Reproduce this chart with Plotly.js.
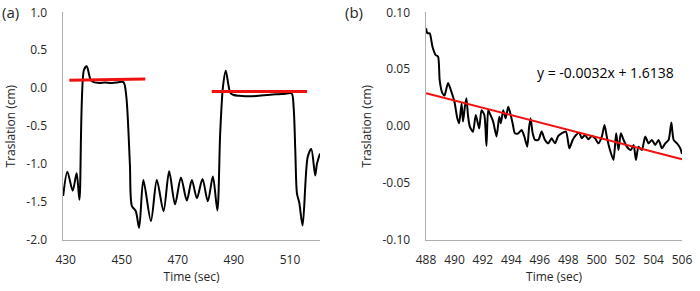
<!DOCTYPE html>
<html>
<head>
<meta charset="utf-8">
<script src="https://cdn.plot.ly/plotly-3.0.1.min.js"></script>
<style>html,body{margin:0;padding:0;background:#fff;}#chart{width:700px;height:291px;}</style>
</head>
<body>
<div id="chart"></div>
<script>
// Panel (a): translation vs time
const timeA = [429.1, 430.6, 432.5, 433.9, 434.9, 436.5, 437.5, 438.9, 440.0, 442.0, 444.0, 446.0, 448.0, 450.6,
  451.6, 452.9, 453.6, 455.0, 456.2, 457.7, 460.4, 462.5, 464.9, 466.9, 469.0, 471.1, 473.2, 475.0, 476.8,
  478.8, 480.7, 482.5, 484.1, 485.1, 486.1, 487.1, 488.7, 489.9, 492.0, 495.8, 499.0, 501.8, 505.0, 508.0,
  510.6, 511.3, 511.9, 512.5, 513.3, 514.5, 516.3, 517.6, 519.0, 519.6, 520.7];
const transA = [-1.42, -1.10, -1.35, -1.12, -1.47, 0.24, 0.29, 0.11, 0.08, 0.07, 0.075, 0.07, 0.075, 0.08,
  -0.10, -1.00, -1.55, -1.62, -1.84, -1.21, -1.75, -1.21, -1.62, -1.095, -1.53, -1.175, -1.48, -1.21, -1.45,
  -1.196, -1.49, -1.165, -1.61, -0.60, 0.02, 0.23, -0.06, -0.09, -0.10, -0.107, -0.10, -0.09, -0.08, -0.075,
  -0.07, -0.25, -0.82, -1.39, -1.505, -1.81, -0.91, -0.80, -1.15, -1.00, -0.86];
// Panel (a) red reference levels
const levelA1X = [431.3, 458.4];
const levelA1Y = [0.105, 0.12];
const levelA2X = [482.1, 516.1];
const levelA2Y = [-0.045, -0.045];
const ticksA_x = [430, 450, 470, 490, 510];
const ticksA_y = [-2.0, -1.5, -1.0, -0.5, 0.0, 0.5, 1.0];

// Panel (b): zoomed plateau
const timeB = [488.0, 488.1, 488.26, 488.45, 488.68, 488.85, 488.96, 489.15, 489.3, 489.55, 489.79, 490.0, 490.2,
  490.33, 490.5, 490.6, 490.73, 490.84, 490.96, 491.08, 491.3, 491.5, 491.74, 491.9, 492.1, 492.25, 492.37,
  492.49, 492.72, 492.96, 493.15, 493.26, 493.43, 493.6, 493.78, 493.9, 494.09, 494.25, 494.49, 494.72, 494.9,
  495.12, 495.24, 495.35, 495.5, 495.66, 495.9, 496.13, 496.36, 496.6, 496.83, 497.07, 497.3, 497.54, 497.84,
  498.08, 498.31, 498.55, 498.78, 498.95, 499.18, 499.42, 499.65, 499.89, 500.12, 500.36, 500.55, 500.71,
  500.9, 501.18, 501.37, 501.53, 501.7, 501.89, 502.12, 502.4, 502.6, 502.76, 502.94, 503.18, 503.41, 503.65,
  503.88, 504.12, 504.35, 504.59, 504.82, 505.06, 505.25, 505.41, 505.65, 505.88, 506.0];
const transB = [0.086, 0.0816, 0.0816, 0.070, 0.0625, 0.061, 0.0405, 0.029, 0.027, 0.038, 0.030, 0.0215, 0.0069,
  0.0025, 0.020, 0.004, 0.017, 0.0245, 0.0083, -0.0004, -0.005, 0.0098, -0.002, 0.014, 0.0098, -0.0174, 0.014,
  0.011, 0.004, -0.009, 0.0083, 0.0025, 0.014, 0.0069, 0.017, 0.0127, 0.0025, -0.0063, -0.0063, -0.0034, -0.0086,
  -0.018, -0.0019, 0.0069, -0.0063, -0.0121, -0.0121, -0.0048, -0.0121, -0.0151, -0.0107, -0.0151, -0.0086,
  -0.0063, -0.0048, -0.0195, -0.0121, -0.0078, -0.0057, -0.0107, -0.0078, -0.0116, -0.0086, -0.0107, -0.0151,
  -0.0092, 0.001, -0.0092, -0.0195, -0.0297, -0.0063, -0.021, -0.0063, -0.0121, -0.018, -0.021, -0.0165,
  -0.0297, -0.018, -0.021, -0.0092, -0.0151, -0.0121, -0.0165, -0.0121, -0.0195, -0.0151, -0.0121, 0.0031,
  -0.0121, -0.0151, -0.0195, -0.0244];
const trendBX = [488, 506];
const trendBY = [0.029, -0.029];
const trendLabel = 'y = -0.0032x + 1.6138';
const ticksB_x = [488, 490, 492, 494, 496, 498, 500, 502, 504, 506];
const ticksB_y = [-0.10, -0.05, 0.00, 0.05, 0.10];

const FONT = 'Open Sans, Liberation Sans, sans-serif';
const TXT = '#262626';
const AX = '#b0b0b0';
const red = '#f01010';

const traces = [
  {x: timeA, y: transA, type: 'scatter', mode: 'lines', line: {color: '#000', width: 2, shape: 'spline', smoothing: 0.8}, xaxis: 'x', yaxis: 'y'},
  {x: levelA1X, y: levelA1Y, type: 'scatter', mode: 'lines', line: {color: red, width: 3}, xaxis: 'x', yaxis: 'y'},
  {x: levelA2X, y: levelA2Y, type: 'scatter', mode: 'lines', line: {color: red, width: 3}, xaxis: 'x', yaxis: 'y'},
  {x: timeB, y: transB, type: 'scatter', mode: 'lines', line: {color: '#000', width: 2, shape: 'spline', smoothing: 0.6}, xaxis: 'x2', yaxis: 'y2'},
  {x: trendBX, y: trendBY, type: 'scatter', mode: 'lines', line: {color: red, width: 2}, xaxis: 'x2', yaxis: 'y2'}
];

function xax(domain, range, ticks, fmt) {
  return {
    domain: domain, range: range, tickvals: ticks, ticktext: ticks.map(v => v.toFixed(fmt)),
    showgrid: false, zeroline: false, showline: true, linecolor: AX, linewidth: 1.5,
    ticks: '', ticklabelstandoff: 8, tickfont: {family: FONT, size: 12, color: TXT},
    title: {text: 'Time (sec)', font: {family: FONT, size: 12, color: TXT}, standoff: 2},
    fixedrange: true
  };
}
function yax(domain, range, ticks, fmt, anchor) {
  return {
    domain: domain, range: range, tickvals: ticks, ticktext: ticks.map(v => v.toFixed(fmt)),
    showgrid: false, zeroline: false, showline: true, linecolor: AX, linewidth: 1.5,
    ticks: '', ticklabelstandoff: 12, tickfont: {family: FONT, size: 12, color: TXT},
    title: {text: 'Traslation (cm)', font: {family: FONT, size: 12, color: TXT}, standoff: 8},
    anchor: anchor, fixedrange: true
  };
}

const yDom = [0.1753, 0.9577];
const layout = {
  width: 700, height: 291,
  margin: {l: 0, r: 0, t: 0, b: 0},
  paper_bgcolor: '#fff', plot_bgcolor: '#fff',
  showlegend: false,
  xaxis: Object.assign(xax([0.09, 0.4571], [429.04, 520.7], ticksA_x, 0), {anchor: 'y'}),
  yaxis: yax(yDom, [-2, 1], ticksA_y, 1, 'x'),
  xaxis2: Object.assign(xax([0.6086, 0.9743], [488, 506], ticksB_x, 0), {anchor: 'y2'}),
  yaxis2: yax(yDom, [-0.1, 0.1], ticksB_y, 2, 'x2'),
  annotations: [
    {text: '(a)', xref: 'paper', yref: 'paper', x: 0, y: 1, xanchor: 'left', yanchor: 'top', showarrow: false,
     font: {family: FONT, size: 15, color: TXT}},
    {text: '(b)', xref: 'paper', yref: 'paper', x: 0.49, y: 1, xanchor: 'left', yanchor: 'top', showarrow: false,
     font: {family: FONT, size: 15, color: TXT}},
    {text: trendLabel, xref: 'x2', yref: 'y2', x: 500.6, y: 0.047, xanchor: 'center', yanchor: 'middle', showarrow: false,
     font: {family: FONT, size: 14, color: '#000'}}
  ]
};

Plotly.newPlot('chart', traces, layout, {staticPlot: true, displayModeBar: false});
</script>
</body>
</html>
